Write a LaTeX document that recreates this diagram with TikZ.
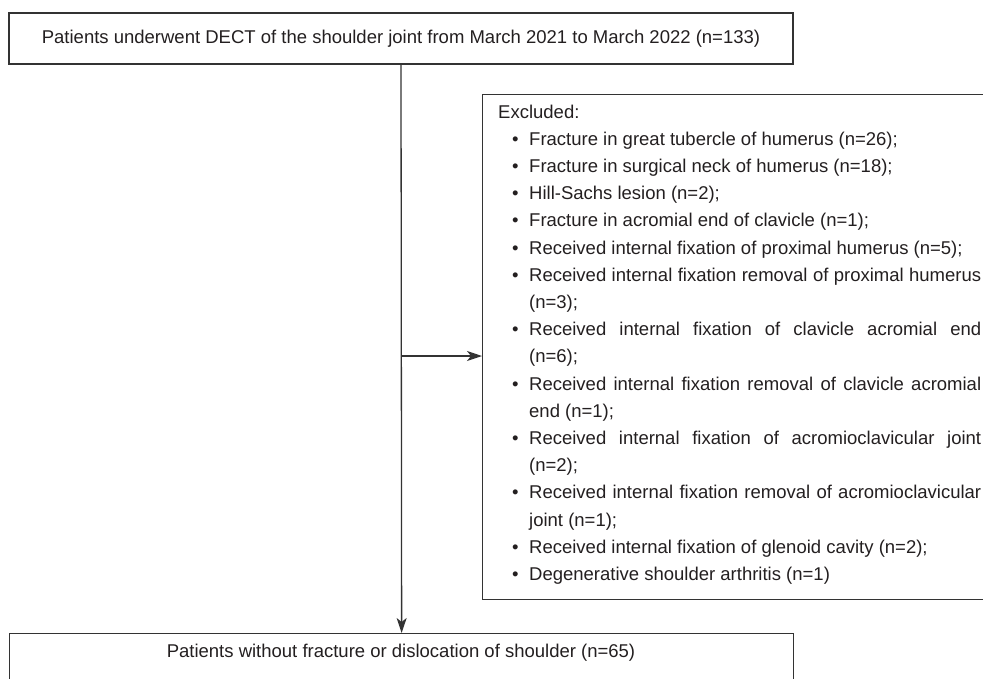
\documentclass[tikz,border=0pt]{standalone}
\usepackage{fontspec}
\setmainfont{Liberation Sans}
\usetikzlibrary{arrows.meta}
\definecolor{ln}{HTML}{333333}
\definecolor{tx}{HTML}{231F20}
\begin{document}
\begin{tikzpicture}[x=1pt,y=-1pt,
  box/.style={draw=ln,line width=1.3pt,inner sep=0pt},
  txt/.style={text=tx,font=\fontsize{18.5}{25.3}\selectfont,inner sep=0pt,anchor=base west},
  bul/.style={txt},
  arr/.style={draw=ln,line width=1.3pt,-{Stealth[length=15pt,width=10pt,inset=4pt]}}]
\clip (0,0) rectangle (983,678);
\node[box,minimum width=784pt,minimum height=51pt,text=tx,font=\fontsize{18.5}{25.3}\selectfont] (top) at (401,38.5) {Patients underwent DECT of the shoulder joint from March 2021 to March 2022 (n=133)};
\node[box,anchor=north west,minimum width=520pt,minimum height=505pt] (excl) at (482,94) {};
\node[box,anchor=north west,minimum width=784pt,minimum height=80pt] (bot) at (9,633) {};
\node[txt,anchor=center] (bottxt) at (401,653) {Patients without fracture or dislocation of shoulder (n=65)};
% excluded list
\node[txt] (l0) at (498,118.0) {Excluded:};
\node[bul] (b1) at (512,145.2) {•};
\node[txt] (l1) at (529,145.2) {Fracture in great tubercle of humerus (n=26);};
\node[bul] (b2) at (512,172.4) {•};
\node[txt] (l2) at (529,172.4) {Fracture in surgical neck of humerus (n=18);};
\node[bul] (b3) at (512,199.6) {•};
\node[txt] (l3) at (529,199.6) {Hill-Sachs lesion (n=2);};
\node[bul] (b4) at (512,226.8) {•};
\node[txt] (l4) at (529,226.8) {Fracture in acromial end of clavicle (n=1);};
\node[bul] (b5) at (512,254.0) {•};
\node[txt] (l5) at (529,254.0) {Received internal fixation of proximal humerus (n=5);};
\node[bul] (b6) at (512,281.2) {•};
\node[txt] (l6) at (529,281.2) {\makebox[452pt][s]{Received internal fixation removal of proximal humerus}};
\node[txt] (l7) at (529,308.4) {(n=3);};
\node[bul] (b8) at (512,335.6) {•};
\node[txt] (l8) at (529,335.6) {\makebox[452pt][s]{Received internal fixation of clavicle acromial end}};
\node[txt] (l9) at (529,362.8) {(n=6);};
\node[bul] (b10) at (512,390.0) {•};
\node[txt] (l10) at (529,390.0) {\makebox[452pt][s]{Received internal fixation removal of clavicle acromial}};
\node[txt] (l11) at (529,417.2) {end (n=1);};
\node[bul] (b12) at (512,444.4) {•};
\node[txt] (l12) at (529,444.4) {\makebox[452pt][s]{Received internal fixation of acromioclavicular joint}};
\node[txt] (l13) at (529,471.6) {(n=2);};
\node[bul] (b14) at (512,498.8) {•};
\node[txt] (l14) at (529,498.8) {\makebox[452pt][s]{Received internal fixation removal of acromioclavicular}};
\node[txt] (l15) at (529,526.0) {joint (n=1);};
\node[bul] (b16) at (512,553.2) {•};
\node[txt] (l16) at (529,553.2) {Received internal fixation of glenoid cavity (n=2);};
\node[bul] (b17) at (512,580.4) {•};
\node[txt] (l17) at (529,580.4) {Degenerative shoulder arthritis (n=1)};
% connectors
\coordinate (br) at (401,356);
\draw[arr] (top.south) -- (bot.north);
\draw[arr] (br) -- (br -| excl.west);
\end{tikzpicture}
\end{document}
